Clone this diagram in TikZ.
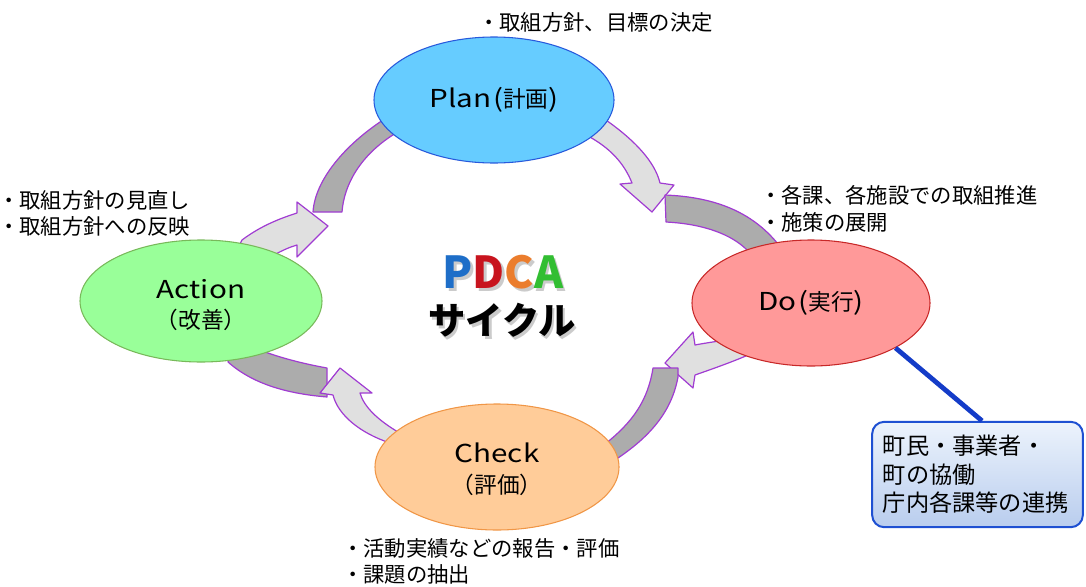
\documentclass[tikz,border=0pt]{standalone}
\usepackage{fontspec}
\setmainfont{Noto Sans CJK JP}
\newfontfamily\latwfont[FakeStretch=1.2]{Noto Sans CJK JP}
\usetikzlibrary{shapes.geometric}
\definecolor{planfill}{RGB}{102,204,255}
\definecolor{planedge}{RGB}{40,90,220}
\definecolor{dofill}{RGB}{255,153,153}
\definecolor{doedge}{RGB}{200,40,40}
\definecolor{chkfill}{RGB}{255,204,153}
\definecolor{chkedge}{RGB}{240,150,70}
\definecolor{actfill}{RGB}{153,255,153}
\definecolor{actedge}{RGB}{120,185,90}
\definecolor{arrowpurple}{RGB}{160,60,210}
\definecolor{darkgrey}{RGB}{172,172,172}
\definecolor{lightgrey}{RGB}{224,224,224}
\definecolor{linkblue}{RGB}{20,60,200}
\definecolor{boxedge}{RGB}{30,80,210}
\definecolor{boxtop}{RGB}{236,243,252}
\definecolor{boxbot}{RGB}{185,205,238}
\definecolor{pcol}{RGB}{30,110,200}
\definecolor{dcol}{RGB}{200,20,30}
\definecolor{ccol}{RGB}{235,125,45}
\definecolor{acol}{RGB}{50,190,50}
\newcommand\LatWord[1]{{\latwfont\fontsize{18.5pt}{22.5pt}\selectfont #1}}
\begin{document}
\begin{tikzpicture}[x=0.75pt,y=-0.75pt,
  ell/.style={ellipse, line width=0.8pt, inner sep=0pt, align=center,
    font=\fontsize{17pt}{23pt}\selectfont},
  elltext/.style={inner sep=0pt, align=center, font=\fontsize{17pt}{23pt}\selectfont},
  lightarr/.style={draw=arrowpurple, line width=0.9pt, line join=round, fill=lightgrey},
  darkband/.style={draw=arrowpurple, line width=0.9pt, line join=round, fill=darkgrey},
  note/.style={inner sep=0pt, align=left, font=\fontsize{16pt}{20pt}\selectfont},
  infobox/.style={draw=boxedge, line width=1.5pt, rounded corners=9pt,
    top color=boxtop, bottom color=boxbot, minimum width=158pt, minimum height=79pt,
    align=left, text width=142pt, inner xsep=8pt, font=\fontsize{17.4pt}{21.5pt}\selectfont},
  linkline/.style={draw=linkblue, line width=3.6pt},
  pdcastyle/.style={inner sep=0pt, font=\fontsize{33pt}{36pt}\selectfont\bfseries},
  cyclestyle/.style={inner sep=0pt, font=\fontsize{28pt}{32pt}\selectfont\bfseries}
]
\useasboundingbox (0,0) rectangle (1086,586);

% ---- Plan -> Do
\draw[lightarr] (603,118) .. controls (635,140) and (655,162) .. (660,183) -- (674,185) -- (652,212)
  -- (620,184) -- (632,183) .. controls (624,163) and (610,148) .. (588,136) -- cycle;
\draw[darkband] (665,195) .. controls (715,197) and (752,212) .. (778,244) -- (752,262) -- (747,250)
  .. controls (732,235) and (705,224) .. (666,222) -- cycle;

% ---- Do -> Check
\draw[lightarr] (738,338) .. controls (720,341) and (705,343) .. (695,345) -- (693,332) -- (665,363)
  -- (693,388) -- (695,375) .. controls (715,368) and (735,361) .. (755,352) -- cycle;
\draw[darkband] (653,368) -- (678,368) -- (678,377) .. controls (672,410) and (652,435) .. (618,458)
  -- (600,455) -- (605,444) .. controls (633,422) and (648,400) .. (653,368) -- cycle;

% ---- Check -> Action
\draw[darkband] (327,368) -- (327,397) .. controls (292,394) and (255,386) .. (228,362) -- (235,345)
  -- (265,345) -- (265,352) .. controls (285,359) and (305,364) .. (327,368) -- cycle;
\draw[lightarr] (320,393) -- (333,395) .. controls (338,415) and (360,433) .. (390,443) -- (398,432)
  .. controls (378,420) and (364,407) .. (360,393) -- (372,393) -- (340,368) -- cycle;

% ---- Action -> Plan
\draw[lightarr] (297,202) -- (328,226) -- (297,257) -- (297,245) .. controls (290,247) and (283,250) .. (272,256)
  -- (238,248) -- (242,240) .. controls (258,228) and (275,220) .. (297,213) -- cycle;
\draw[darkband] (313,212) -- (342,212) .. controls (344,185) and (360,155) .. (396,133) -- (400,118)
  -- (383,120) .. controls (345,145) and (315,180) .. (313,212) -- cycle;

% ---- ellipses
\node[ell, fill=planfill, draw=planedge, minimum width=180pt, minimum height=94.5pt] (plan) at (494,100)
  {\LatWord{Plan\hspace{1.5pt}(}計画\LatWord{)}};
\node[ell, fill=dofill, draw=doedge, minimum width=178.5pt, minimum height=94.5pt] (do) at (811,303)
  {\LatWord{Do\hspace{1.5pt}(}実行\LatWord{)}};
\node[ell, fill=chkfill, draw=chkedge, minimum width=183pt, minimum height=94.5pt] (check) at (497,467) {};
\node[elltext] (checktext) at (497,469) {\LatWord{Check}\\（評価）};
\node[ell, fill=actfill, draw=actedge, minimum width=181.5pt, minimum height=91.5pt] (action) at (201,301) {};
\node[elltext] (actiontext) at (201,305) {\LatWord{Action}\\（改善）};

% ---- notes
\node[note, anchor=west] (plannote) at (478,22) {・取組方針、目標の決定};
\node[note, anchor=west] (donote) at (760,209) {・各課、各施設での取組推進\\・施策の展開};
\node[note, anchor=west] (actnote) at (-2,213.5) {・取組方針の見直し\\・取組方針への反映};
\node[note, anchor=west] (chknote) at (342,561.5) {・活動実績などの報告・評価\\・課題の抽出};

% ---- info box and link
\node[infobox] (box) at (977.5,474.5) {町民・事業者・\\町の協働\\庁内各課等の連携};
\draw[linkline] (do.-28) -- ([xshift=3.4pt]box.north);

% ---- centre title
\node[pdcastyle, text=black!45, opacity=0.45] (pdcashadow) at (505.5,275) {PDCA};
\node[pdcastyle] (pdca) at (503,272)
  {\textcolor{pcol}{P}\textcolor{dcol}{D}\textcolor{ccol}{C}\textcolor{acol}{A}};
\node[cyclestyle, text=black!45, opacity=0.45] (cycleshadow) at (504.5,323) {サイクル};
\node[cyclestyle] (cycle) at (502,320) {サイクル};
\end{tikzpicture}
\end{document}
